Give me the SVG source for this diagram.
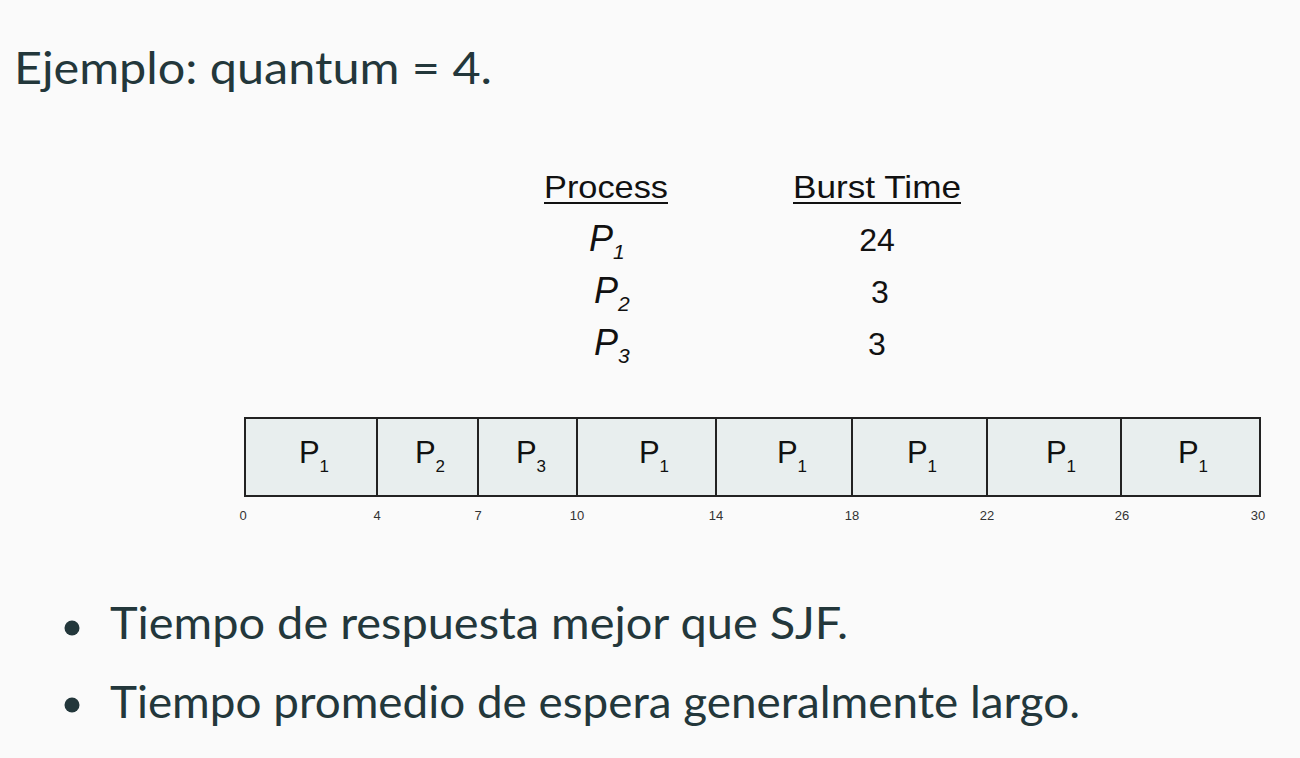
<svg xmlns="http://www.w3.org/2000/svg" width="1300" height="758" viewBox="0 0 1300 758">
<style>
.t{font-family:Lato,"Open Sans",sans-serif;fill:#23373b;font-size:45px}
.a{font-family:"Liberation Sans",Arial,sans-serif;fill:#111}
.box{fill:#e8eeee;stroke:#222;stroke-width:2}
.lbl{font-family:"Liberation Sans",Arial,sans-serif;font-size:31px;fill:#111;text-anchor:middle}
.sub{font-size:17px}
.tick{font-family:"Liberation Sans",Arial,sans-serif;font-size:13px;fill:#333;text-anchor:middle}
</style>
<rect width="1300" height="758" fill="#fafafa"/>
<text class="t" x="14" y="84" textLength="478" lengthAdjust="spacingAndGlyphs">Ejemplo: quantum = 4.</text>
<g id="table">
<text class="a" x="544" y="198" font-size="32" textLength="124" lengthAdjust="spacingAndGlyphs">Process</text>
<line x1="544" y1="203" x2="668" y2="203" stroke="#111" stroke-width="2"/>
<text class="a" x="793" y="198" font-size="32" textLength="168" lengthAdjust="spacingAndGlyphs">Burst Time</text>
<line x1="793" y1="203" x2="961" y2="203" stroke="#111" stroke-width="2"/>
<text class="a" x="589" y="251" font-size="36" font-style="italic">P<tspan font-size="21" dy="8">1</tspan></text>
<text class="a" x="594" y="303" font-size="36" font-style="italic">P<tspan font-size="21" dy="8">2</tspan></text>
<text class="a" x="594" y="355" font-size="36" font-style="italic">P<tspan font-size="21" dy="8">3</tspan></text>
<text class="a" x="877" y="251" font-size="32" text-anchor="middle">24</text>
<text class="a" x="880" y="303" font-size="32" text-anchor="middle">3</text>
<text class="a" x="877" y="355" font-size="32" text-anchor="middle">3</text>
</g>
<g id="gantt">
<rect class="box" x="245" y="418" width="132" height="78"/>
<rect class="box" x="377" y="418" width="101" height="78"/>
<rect class="box" x="478" y="418" width="99" height="78"/>
<rect class="box" x="577" y="418" width="139" height="78"/>
<rect class="box" x="716" y="418" width="136" height="78"/>
<rect class="box" x="852" y="418" width="135" height="78"/>
<rect class="box" x="987" y="418" width="134" height="78"/>
<rect class="box" x="1121" y="418" width="139" height="78"/>
<text class="lbl" x="314" y="463">P<tspan class="sub" dy="9">1</tspan></text>
<text class="lbl" x="430" y="463">P<tspan class="sub" dy="9">2</tspan></text>
<text class="lbl" x="531" y="463">P<tspan class="sub" dy="9">3</tspan></text>
<text class="lbl" x="654" y="463">P<tspan class="sub" dy="9">1</tspan></text>
<text class="lbl" x="792" y="463">P<tspan class="sub" dy="9">1</tspan></text>
<text class="lbl" x="922" y="463">P<tspan class="sub" dy="9">1</tspan></text>
<text class="lbl" x="1061" y="463">P<tspan class="sub" dy="9">1</tspan></text>
<text class="lbl" x="1193" y="463">P<tspan class="sub" dy="9">1</tspan></text>
<text class="tick" x="243" y="520">0</text>
<text class="tick" x="377" y="520">4</text>
<text class="tick" x="478" y="520">7</text>
<text class="tick" x="577" y="520">10</text>
<text class="tick" x="716" y="520">14</text>
<text class="tick" x="852" y="520">18</text>
<text class="tick" x="987" y="520">22</text>
<text class="tick" x="1122" y="520">26</text>
<text class="tick" x="1258" y="520">30</text>
</g>
<g id="bullets">
<circle cx="72" cy="628" r="7.5" fill="#23373b"/>
<text class="t" x="110" y="639" textLength="738" lengthAdjust="spacingAndGlyphs">Tiempo de respuesta mejor que SJF.</text>
<circle cx="72" cy="705" r="7.5" fill="#23373b"/>
<text class="t" x="110" y="718" textLength="970" lengthAdjust="spacingAndGlyphs">Tiempo promedio de espera generalmente largo.</text>
</g>
</svg>
